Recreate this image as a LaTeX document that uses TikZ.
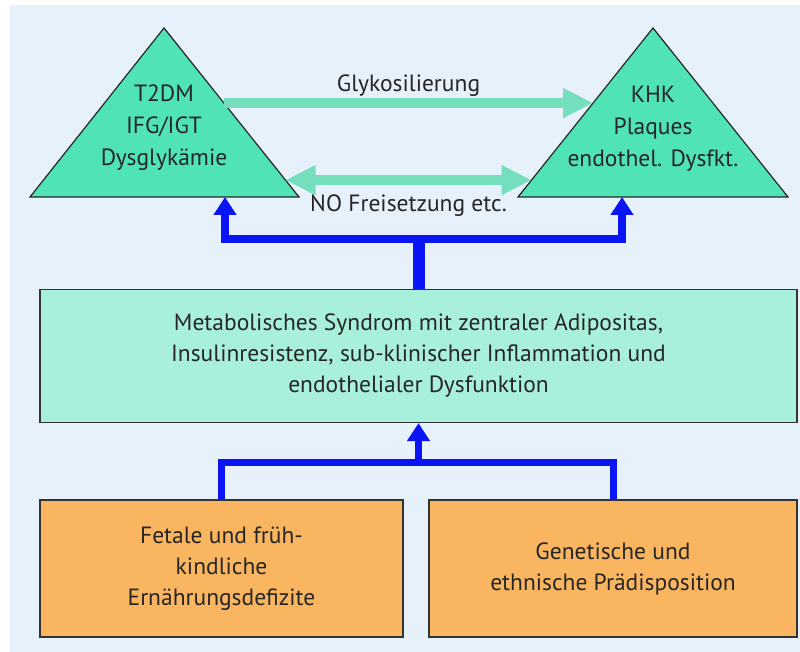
\documentclass[tikz,border=0pt]{standalone}
\usepackage{fontspec}
\setmainfont{PT Sans}
\usetikzlibrary{arrows.meta,positioning,calc}
\definecolor{msbg}{HTML}{E7F1FB}
\definecolor{mstrifill}{HTML}{4FE3B6}
\definecolor{msgreen}{HTML}{74DEBD}
\definecolor{msmetafill}{HTML}{A8F0DC}
\definecolor{msorange}{HTML}{F9B560}
\definecolor{msblue}{HTML}{0A14F5}
\newcommand{\mstextfont}{\fontsize{23.5}{31}\selectfont}
\tikzset{
  mstri/.style={draw=black!85, fill=mstrifill, line width=1.2pt, line join=miter},
  msbox/.style={draw=black!80, line width=1.2pt, inner sep=0pt, align=center, font=\mstextfont, text=black!85},
  mstext/.style={align=center, font=\mstextfont, inner sep=0pt, outer sep=0pt, text=black!85},
  msgarrow/.style={-{Triangle[length=30pt,width=28pt]}, draw=msgreen, line width=10pt},
  msgdarrow/.style={{Triangle[length=30pt,width=28pt]}-{Triangle[length=30pt,width=28pt]}, draw=msgreen, line width=10pt},
  msbarrow/.style={-{Triangle[length=18pt,width=22pt]}, draw=msblue, line width=8pt, line join=miter},
  msbline/.style={draw=msblue, line width=7pt, line join=miter},
}

\begin{document}
\begin{tikzpicture}[x=1pt, y=-1pt]
  \useasboundingbox (0,0) rectangle (800,652);
  \fill[msbg] (10,5) rectangle (800,652);

  % triangles
  \coordinate (dmL) at (30,197);
  \coordinate (dmR) at (299,197);
  \coordinate (dmT) at (164,28);
  \coordinate (chdL) at (518,197);
  \coordinate (chdR) at (788,197);
  \coordinate (chdT) at (653,28);
  \draw[mstri] (dmL) -- (dmR) -- (dmT) -- cycle;
  \draw[mstri] (chdL) -- (chdR) -- (chdT) -- cycle;
  \node[mstext, font=\fontsize{23.5}{32}\selectfont] (dm) at (164,128) {T2DM\\IFG/IGT\\Dysglykämie};
  \node[mstext, font=\fontsize{23.5}{32}\selectfont] (chd) at (653,129) {KHK\\Plaques\\endothel. Dysfkt.};

  % boxes
  \node[msbox, fill=msmetafill, minimum width=757pt, minimum height=133pt] (meta) at (418.5,356)
    {Metabolisches Syndrom mit zentraler Adipositas,\\Insulinresistenz, sub-klinischer Inflammation und\\endothelialer Dysfunktion};
  \node[msbox, fill=msorange, minimum width=363pt, minimum height=137pt] (fet) at (221.5,568.5)
    {Fetale und früh-\\kindliche\\Ernährungsdefizite};
  \node[msbox, fill=msorange, minimum width=368pt, minimum height=137pt] (gen) at (613,568.5)
    {Genetische und\\ethnische Prädisposition};

  % green arrows between triangles
  \coordinate (glyA) at ($(dmR)!0.556!(dmT)$);
  \coordinate (glyB) at ($(chdL)!0.556!(chdT)$);
  \coordinate (noA) at ($(dmR)!0.1!(dmT)$);
  \coordinate (noB) at ($(chdL)!0.1!(chdT)$);
  \draw[msgarrow] (glyA) -- node[mstext, above=7pt] (gly) {Glykosilierung} (glyB);
  \draw[msgdarrow] (noA) -- node[mstext, below=15pt] (no) {NO Freisetzung etc.} (noB);

  % blue connectors
  \coordinate (jtop) at ($(meta.north)+(0,-50)$);
  \coordinate (dmB) at (225,197);
  \coordinate (chdB) at (622,197);
  \draw[draw=msblue, line width=12pt] (meta.north) -- (jtop);
  \draw[msbarrow] (jtop) -| (dmB);
  \draw[msbarrow] (jtop) -| (chdB);

  \coordinate (jbot) at ($(meta.south)+(0,39)$);
  \draw[msbline] (fet.north) |- (jbot) -| (gen.north);
  \draw[msbarrow, line width=7pt] (jbot) -- (meta.south);
\end{tikzpicture}
\end{document}
